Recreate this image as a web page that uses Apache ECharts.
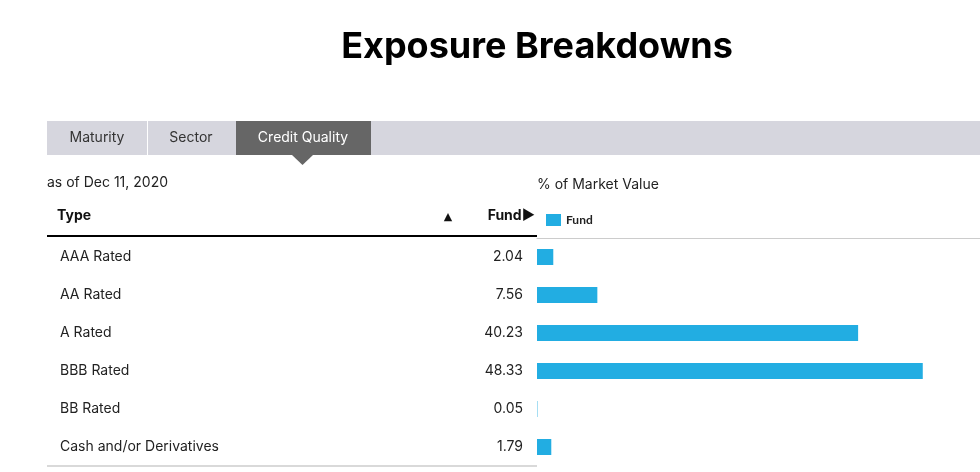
<!DOCTYPE html>
<html>
<head>
<meta charset="utf-8">
<style>
  html, body { margin: 0; padding: 0; background: #fff; }
  #chart { width: 980px; height: 472px; }
</style>
<script src="https://cdn.jsdelivr.net/npm/echarts@6/dist/echarts.min.js"></script>
</head>
<body>
<div id="chart"></div>
<script>
  // credit quality breakdown, as of Dec 11, 2020
  var types = ['AAA Rated', 'AA Rated', 'A Rated', 'BBB Rated', 'BB Rated', 'Cash and/or Derivatives'];
  var fund = [2.04, 7.56, 40.23, 48.33, 0.05, 1.79];
  var tabs = ['Maturity', 'Sector', 'Credit Quality'];

  var chart = echarts.init(document.getElementById('chart'));
  var font = 'Inter, "Open Sans", sans-serif';

  var option = {
    animation: false,
    grid: { left: 537, right: 0, top: 238, bottom: 6 },
    legend: {
      left: 541, top: 209,
      icon: 'rect', itemWidth: 15, itemHeight: 12, itemGap: 6,
      textStyle: { fontFamily: 'Lato, sans-serif', fontWeight: 'bold', fontSize: 12, color: '#222' },
      data: ['Fund']
    },
    xAxis: {
      type: 'value', min: 0, max: 55.5, position: 'top',
      axisLine: { show: true, lineStyle: { color: '#cccccc', width: 1 } },
      axisTick: { show: false }, axisLabel: { show: false }, splitLine: { show: false }
    },
    yAxis: [
      {
        type: 'category', inverse: true, data: types,
        axisLine: { show: false }, axisTick: { show: false },
        axisLabel: { align: 'left', margin: 477, fontFamily: font, fontSize: 14, color: '#222' }
      },
      {
        type: 'category', inverse: true, position: 'left',
        data: fund.map(function (v) { return v.toFixed(2); }),
        axisLine: { show: false }, axisTick: { show: false },
        axisLabel: { align: 'right', margin: 14, fontFamily: font, fontSize: 14, color: '#222' }
      }
    ],
    series: [{
      name: 'Fund', type: 'bar', yAxisIndex: 0, barWidth: 16,
      itemStyle: { color: '#22ade2' },
      data: fund
    }],
    graphic: [
      { type: 'text', x: 537, y: 47, style: { text: 'Exposure Breakdowns', fontFamily: font, fontWeight: 'bold', fontSize: 36, fill: '#000', align: 'center', verticalAlign: 'middle' } },
      { type: 'rect', shape: { x: 47, y: 121, width: 933, height: 34 }, style: { fill: '#d6d6de' } },
      { type: 'line', shape: { x1: 147.5, y1: 121, x2: 147.5, y2: 155 }, style: { stroke: '#fff', lineWidth: 1 } },
      { type: 'rect', shape: { x: 236, y: 121, width: 135, height: 34 }, style: { fill: '#666666' } },
      { type: 'polygon', shape: { points: [[292, 155], [313, 155], [302.5, 165]] }, style: { fill: '#666666' } },
      { type: 'text', x: 97, y: 138, style: { text: tabs[0], fontFamily: font, fontSize: 14, fill: '#333', align: 'center', verticalAlign: 'middle' } },
      { type: 'text', x: 191, y: 138, style: { text: tabs[1], fontFamily: font, fontSize: 14, fill: '#333', align: 'center', verticalAlign: 'middle' } },
      { type: 'text', x: 303, y: 138, style: { text: tabs[2], fontFamily: font, fontSize: 14, fill: '#fff', align: 'center', verticalAlign: 'middle' } },
      { type: 'text', x: 47, y: 183, style: { text: 'as of Dec 11, 2020', fontFamily: font, fontSize: 14, fill: '#222', verticalAlign: 'middle' } },
      { type: 'text', x: 537, y: 185, style: { text: '% of Market Value', fontFamily: font, fontSize: 14, fill: '#222', verticalAlign: 'middle' } },
      { type: 'text', x: 57, y: 216, style: { text: 'Type', fontFamily: font, fontWeight: 'bold', fontSize: 14, fill: '#111', verticalAlign: 'middle' } },
      { type: 'text', x: 448, y: 217, style: { text: '▲', fontFamily: 'DejaVu Sans, sans-serif', fontSize: 11, fill: '#111', align: 'center', verticalAlign: 'middle' } },
      { type: 'text', x: 535, y: 216, style: { text: 'Fund▶', fontFamily: font, fontWeight: 'bold', fontSize: 14, fill: '#111', align: 'right', verticalAlign: 'middle' } },
      { type: 'line', shape: { x1: 47, y1: 236, x2: 537, y2: 236 }, style: { stroke: '#000', lineWidth: 2 } },
      { type: 'line', shape: { x1: 47, y1: 466, x2: 537, y2: 466 }, style: { stroke: '#cccccc', lineWidth: 1.5 } }
    ]
  };

  chart.setOption(option);
</script>
</body>
</html>
